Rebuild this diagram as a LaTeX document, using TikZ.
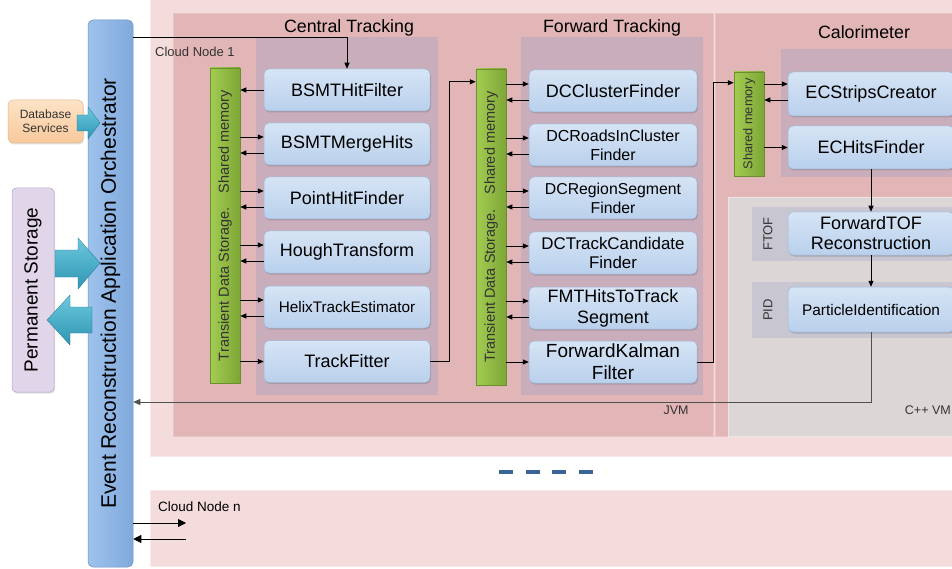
\documentclass[tikz,border=0pt]{standalone}
\usepackage{fontspec}
\usepackage{graphicx}
\setmainfont{Liberation Sans}
\usetikzlibrary{arrows.meta,shadows,calc}
\definecolor{outerpink}{HTML}{F4DCDC}
\definecolor{jvmpink}{HTML}{E2B6B6}
\definecolor{panel}{HTML}{C9ADBB}
\definecolor{cppgray}{HTML}{DDD6D6}
\definecolor{strip}{HTML}{C8C6D0}
\definecolor{boxtop}{HTML}{D6E4F5}
\definecolor{boxbot}{HTML}{B9D0EC}
\definecolor{boxedge}{HTML}{9DB8DA}
\definecolor{greenL}{HTML}{A3CC52}
\definecolor{greenR}{HTML}{7EA636}
\definecolor{greenedge}{HTML}{6B8E2E}
\definecolor{orchL}{HTML}{9EC2EC}
\definecolor{orchR}{HTML}{80A9DB}
\definecolor{orchedge}{HTML}{6A93C6}
\definecolor{permfill}{HTML}{E1D5EA}
\definecolor{permedge}{HTML}{B7A6C7}
\definecolor{dbtop}{HTML}{FDE3C6}
\definecolor{dbbot}{HTML}{F8C99B}
\definecolor{dbedge}{HTML}{E3B78A}
\definecolor{cyanT}{HTML}{6CC8DD}
\definecolor{cyanB}{HTML}{2E95B3}
\definecolor{dashblue}{HTML}{3A6496}
\definecolor{retgray}{HTML}{505050}
\definecolor{txtgray}{HTML}{333333}
\newcommand\fsz[2]{\fontsize{#1}{#2}\selectfont}
\begin{document}
\begin{tikzpicture}[x=1pt,y=-1pt,
  proc/.style={draw=boxedge,line width=0.5pt,rounded corners=5pt,top color=boxtop,bottom color=boxbot,
    minimum width=166pt,minimum height=42pt,inner sep=0pt,align=center,text=black,
    font=\fsz{18}{20},drop shadow={shadow xshift=1pt,shadow yshift=-1.5pt,opacity=0.3,fill=black!60}},
  sharedbar/.style={draw=greenedge,line width=0.5pt,left color=greenL,right color=greenR,
    minimum width=30pt,inner sep=0pt,text=txtgray},
  lbl/.style={inner sep=0pt,text=txtgray},
  conn/.style={draw=black,line width=0.8pt,-{Triangle[length=6pt,width=5pt]}},
  sarr/.style={draw=black,line width=0.8pt,-{Triangle[length=6pt,width=5pt]}},
  retline/.style={draw=retgray,line width=1pt,-{Triangle[length=7pt,width=6pt]}},
  bigarr/.style={draw=black,line width=0.9pt,-{Triangle[length=8pt,width=8pt]}},
  blockarr/.style={top color=cyanT,bottom color=cyanB,draw=cyanB!80!black,line width=0.3pt}
]
\useasboundingbox (0,0) rectangle (952,569);
% containers
\fill[outerpink,draw=white!40!outerpink] (150,-2) rectangle (954,456);
\fill[outerpink,draw=white!40!outerpink] (150,490) rectangle (954,566);
\fill[jvmpink,draw=white!20!jvmpink] (173,13) rectangle (713,436);
\fill[jvmpink,draw=white!20!jvmpink] (715,13) rectangle (954,436);
\fill[cppgray,draw=white!40!cppgray] (728,197) rectangle (954,436);
\fill[panel] (256,37) rectangle (438,395);
\fill[panel] (521,37) rectangle (703,395);
\fill[panel] (781,49) rectangle (954,177);
\fill[strip] (752,207) rectangle (954,261);
\fill[strip] (752,282) rectangle (954,338);

% titles and labels
\node[lbl,text=black,font=\fsz{17.8}{20}] (tCT) at (349,28) {Central Tracking};
\node[lbl,text=black,font=\fsz{17.8}{20}] (tFT) at (612,28) {Forward Tracking};
\node[lbl,text=black,font=\fsz{17.8}{20}] (tCal) at (864,32) {Calorimeter};
\node[lbl,anchor=west,font=\fsz{13}{15}] (tCN1) at (155,52) {Cloud Node 1};
\node[lbl,font=\fsz{12.5}{14}] (tJVM) at (676,410) {JVM};
\node[lbl,anchor=east,font=\fsz{12.5}{14}] (tCPP) at (951,410) {C++ VM};
\node[lbl,text=black,anchor=west,font=\fsz{13.5}{15}] (tCNn) at (158,507) {Cloud Node n};
\node[lbl,font=\fsz{13}{14}] (tFTOF) at (768,234) {\rotatebox{90}{FTOF}};
\node[lbl,font=\fsz{13}{14}] (tPID) at (768,310) {\rotatebox{90}{PID}};

% orchestrator and left side
\node[draw=orchedge,line width=0.5pt,rounded corners=5pt,left color=orchL,right color=orchR,
  minimum width=45pt,minimum height=547pt,inner sep=0pt,text=black,font=\fsz{21}{23}]
  (orch) at (110.5,293.5) {\rotatebox{90}{Event Reconstruction Application Orchestrator}};
\node[draw=dbedge,line width=0.5pt,rounded corners=5pt,top color=dbtop,bottom color=dbbot,
  minimum width=75pt,minimum height=43pt,inner sep=0pt,align=center,text=txtgray,font=\fsz{12}{14},
  drop shadow={shadow xshift=1pt,shadow yshift=-1.5pt,opacity=0.25}]
  (db) at (45.5,121.5) {Database\\Services};
\node[draw=permedge,line width=0.5pt,rounded corners=4pt,fill=permfill,
  minimum width=42pt,minimum height=204pt,inner sep=0pt,text=black,font=\fsz{19}{21},
  drop shadow={shadow xshift=1pt,shadow yshift=-1.5pt,opacity=0.25}]
  (perm) at (33,290) {\rotatebox{90}{Permanent Storage}};
\path[blockarr] (77,115) -- (88,115) -- (88,107) -- (100,123) -- (88,139) -- (88,131) -- (77,131) -- cycle;
\path[blockarr] (55,250) -- (78,250) -- (78,238) -- (100,263) -- (78,289) -- (78,277) -- (55,277) -- cycle;
\path[blockarr] (92,307) -- (70,307) -- (70,295) -- (47,320) -- (70,345) -- (70,333) -- (92,333) -- cycle;

% shared memory bars
\node[sharedbar,minimum height=315pt] (cbar) at (225,225.5)
  {\rotatebox{90}{\fsz{14.5}{16}Transient Data Storage.\hspace{1em}Shared memory}};
\node[sharedbar,minimum height=316pt] (fbar) at (491,227)
  {\rotatebox{90}{\fsz{14.5}{16}Transient Data Storage.\hspace{1em}Shared memory}};
\node[sharedbar,minimum height=104pt] (ebar) at (749,124)
  {\rotatebox{90}{\fsz{12.8}{14}Shared memory}};

% central tracking
\node[proc] (b1) at (347,90) {BSMTHitFilter};
\node[proc] (b2) at (347,144) {BSMTMergeHits};
\node[proc] (b3) at (347,198) {PointHitFinder};
\node[proc] (b4) at (347,252) {HoughTransform};
\node[proc,font=\fsz{15.3}{17}] (b5) at (347,307) {HelixTrackEstimator};
\node[proc] (b6) at (347,361.5) {TrackFitter};
% forward tracking
\node[proc,minimum width=168pt] (f1) at (613,91) {DCClusterFinder};
\node[proc,minimum width=168pt,font=\fsz{16}{19}] (f2) at (613,145) {DCRoadsInCluster\\Finder};
\node[proc,minimum width=168pt,font=\fsz{15.8}{19}] (f3) at (613,198) {DCRegionSegment\\Finder};
\node[proc,minimum width=168pt,font=\fsz{16.9}{19}] (f4) at (613,253) {DCTrackCandidate\\Finder};
\node[proc,minimum width=168pt,font=\fsz{17.9}{21}] (f5) at (613,308) {FMTHitsToTrack\\Segment};
\node[proc,minimum width=168pt,font=\fsz{19}{22}] (f6) at (613,362) {ForwardKalman\\Filter};
% calorimeter and C++
\node[proc,minimum height=44pt] (e1) at (871,94) {ECStripsCreator};
\node[proc,minimum height=43pt] (e2) at (871,147.5) {ECHitsFinder};
\node[proc,minimum height=43pt] (tof) at (871,233.5) {ForwardTOF\\Reconstruction};
\node[proc,minimum height=45pt,font=\fsz{15.4}{17}] (pid) at (871,309.5) {ParticleIdentification};

% bar <-> box arrows
\draw[sarr] (b1.west) -- (b1.west -| cbar.east);
\foreach \b in {b2,b3,b4,b5}{
  \draw[sarr] ([yshift=7pt]\b.west -| cbar.east) -- ([yshift=7pt]\b.west);
  \draw[sarr] ([yshift=-9pt]\b.west) -- ([yshift=-9pt]\b.west -| cbar.east);
}
\draw[sarr] (b6.west -| cbar.east) -- (b6.west);
\foreach \b in {f1,f2,f3,f4,f5}{
  \draw[sarr] ([yshift=7pt]\b.west -| fbar.east) -- ([yshift=7pt]\b.west);
  \draw[sarr] ([yshift=-9pt]\b.west) -- ([yshift=-9pt]\b.west -| fbar.east);
}
\draw[sarr] (f6.west -| fbar.east) -- (f6.west);
\draw[sarr] ([yshift=10pt]e1.west -| ebar.east) -- ([yshift=10pt]e1.west);
\draw[sarr] ([yshift=-6pt]e1.west) -- ([yshift=-6pt]e1.west -| ebar.east);
\draw[sarr] (e2.west -| ebar.east) -- (e2.west);

% flow connectors
\coordinate (topY) at (349,37);
\draw[conn] (orch.east |- topY) -| (b1.north);
\draw[conn] (b6.east) -- ++(19,0) |- ([yshift=-13pt]fbar.north west);
\draw[conn] (f6.east) -- ++(16,0) |- ([yshift=-11pt]ebar.north west);
\draw[conn] (e2.south) -- (tof.north);
\draw[conn] (tof.south) -- (pid.north);
\coordinate (retY) at (871,402);
\draw[retline] (pid.south) -- (retY) -- (orch.east |- retY);

% cloud node n arrows
\coordinate (cnA) at (186,523);
\coordinate (cnB) at (186,539);
\draw[bigarr] (orch.east |- cnA) -- (cnA);
\draw[bigarr] (cnB) -- (orch.east |- cnB);

% separator dashes
\draw[dashblue,line width=4pt,dash pattern=on 14pt off 12.5pt] (499,472) -- (593,472);
\end{tikzpicture}
\end{document}
